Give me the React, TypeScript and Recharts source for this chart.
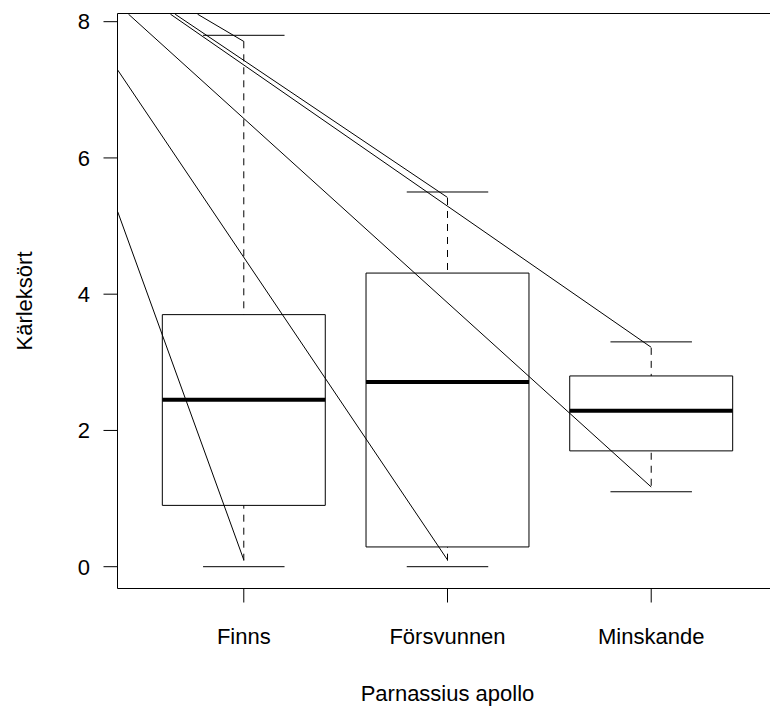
import React from 'react';
import { ComposedChart, XAxis, YAxis, ReferenceArea, ReferenceLine, Label } from 'recharts';

const categories = ['Finns', 'Försvunnen', 'Minskande'];
const xPositions = [1, 2, 3];
const whiskerLow = [0, 0, 1.1];
const boxLow = [0.9, 0.29, 1.7];
const medians = [2.45, 2.71, 2.29];
const boxHigh = [3.7, 4.31, 2.8];
const whiskerHigh = [7.8, 5.5, 3.3];
const yTicks = [0, 2, 4, 6, 8];

// the straight strokes that come in from the upper left and stop at the whisker ends
const strayStartX = [0.381, 0.381, 0.434, 0.64, 0.663, 0.773];
const strayStartY = [5.21, 7.29, 8.11, 8.11, 8.11, 8.11];
const strayEndX = [1, 2, 3, 3, 2, 1];
const strayEndY = [0.1, 0.1, 1.17, 3.22, 5.42, 7.71];

const X_DOMAIN: [number, number] = [0.38, 3.62];
const Y_DOMAIN: [number, number] = [-0.32, 8.12];
const FONT = '"Liberation Sans", Arial, Helvetica, sans-serif';

const rows = categories.map((name, i) => ({ name, x: xPositions[i] }));

const YTitle = (props: any) => {
  const vb = props.viewBox || { y: 13.5, height: 575 };
  const cy = vb.y + vb.height / 2;
  return (
    <text
      x={31.5}
      y={cy}
      transform={`rotate(-90, 31.5, ${cy})`}
      textAnchor="middle"
      fontSize={22}
      fontFamily={FONT}
      fill="#000"
    >
      Kärleksört
    </text>
  );
};

export default function App() {
  const boxes = xPositions.map((x, i) => (
    <React.Fragment key={categories[i]}>
      <ReferenceArea
        x1={x - 0.4}
        x2={x + 0.4}
        y1={boxLow[i]}
        y2={boxHigh[i]}
        fill="none"
        stroke="#000"
        strokeWidth={1}
      />
      <ReferenceLine
        segment={[{ x, y: whiskerHigh[i] }, { x, y: boxHigh[i] }]}
        stroke="#000"
        strokeDasharray="7 6"
        strokeDashoffset={7}
      />
      <ReferenceLine
        segment={[{ x, y: whiskerLow[i] }, { x, y: boxLow[i] }]}
        stroke="#000"
        strokeDasharray="7 6"
        strokeDashoffset={7}
      />
      <ReferenceLine
        segment={[{ x: x - 0.2, y: whiskerHigh[i] }, { x: x + 0.2, y: whiskerHigh[i] }]}
        stroke="#000"
      />
      <ReferenceLine
        segment={[{ x: x - 0.2, y: whiskerLow[i] }, { x: x + 0.2, y: whiskerLow[i] }]}
        stroke="#000"
      />
      <ReferenceLine
        segment={[{ x: x - 0.4, y: medians[i] }, { x: x + 0.4, y: medians[i] }]}
        stroke="#000"
        strokeWidth={4}
      />
    </React.Fragment>
  ));

  const strays = strayEndX.map((ex, i) => (
    <ReferenceLine
      key={`stray-${i}`}
      segment={[
        { x: strayStartX[i], y: strayStartY[i] },
        { x: ex, y: strayEndY[i] },
      ]}
      stroke="#000"
      ifOverflow="hidden"
    />
  ));

  return (
    <div style={{ width: 770, height: 706, overflow: 'hidden', background: '#fff' }}>
      <style>{'body{margin:0}'}</style>
      <ComposedChart
        width={790}
        height={706}
        data={rows}
        margin={{ top: 13.5, right: 12.5, bottom: 0, left: 0 }}
      >
        <XAxis
          type="number"
          dataKey="x"
          domain={X_DOMAIN}
          ticks={xPositions}
          allowDataOverflow
          interval={0}
          tickFormatter={(v: number) => categories[xPositions.indexOf(v)] ?? ''}
          tick={{ fill: '#000', fontSize: 22, fontFamily: FONT }}
          tickLine={{ stroke: '#000' }}
          axisLine={{ stroke: '#000' }}
          tickSize={14}
          tickMargin={26}
          height={117.5}
        >
          <Label
            value="Parnassius apollo"
            position="insideBottom"
            offset={5}
            style={{ fill: '#000', fontSize: 22, fontFamily: FONT }}
          />
        </XAxis>
        <YAxis
          type="number"
          domain={Y_DOMAIN}
          ticks={yTicks}
          allowDataOverflow
          interval={0}
          tick={{ fill: '#000', fontSize: 22, fontFamily: FONT }}
          tickLine={{ stroke: '#000' }}
          axisLine={{ stroke: '#000' }}
          tickSize={14}
          tickMargin={13.5}
          width={117.5}
        >
          <Label content={YTitle} />
        </YAxis>
        <ReferenceLine y={Y_DOMAIN[1]} stroke="#000" />
        <ReferenceLine x={X_DOMAIN[1]} stroke="#000" />
        {boxes}
        {strays}
      </ComposedChart>
    </div>
  );
}
